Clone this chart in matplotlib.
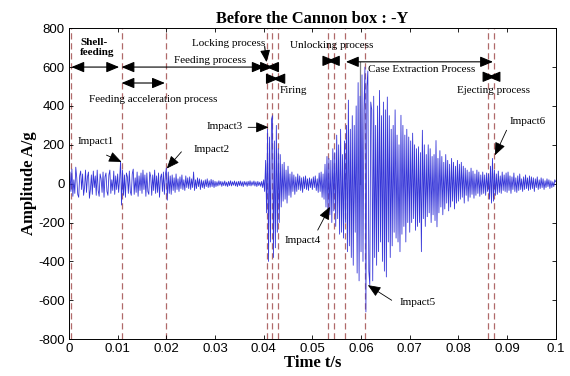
import numpy as np
import matplotlib
matplotlib.use("Agg")
import matplotlib.pyplot as plt

# sample spacing of the hand-read signal (s)
dt = 0.0002

# amplitude (A/g), one list per 0.005 s
a00 = [5, 60, -40, 75, -65, 20, -50, 85, 30, -55, -70, 40, 65, -30, 50, -60, -20, 70, -45, 35, 60, -75, -30, 45, -55]
a01 = [65, -20, 40, -60, 70, -35, -65, 50, 25, -45, 60, -70, 35, 55, -40, -60, 45, 70, -50, 20, -35, 65, -55, 40, -30]
a02 = [50, -45, 20, 115, -110, 70, -60, 45, -70, 55, 35, -50, 65, -40, -60, 50, 75, -55, 30, -45, 60, -65, 40, -35, 55]
a03 = [-50, 70, -30, 45, -65, 55, -40, -55, 60, 35, -60, 45, -35, 70, -50, 40, -45, 55, -70, 30, 50, -40, 60, -55, 45]
a04 = [80, -85, 60, -50, 40, -55, 45, -35, 30, -45, 50, -30, 25, -40, 35, -25, 45, -30, 20, -35, 40, -20, 30, -25, 35]
a05 = [-30, 25, -20, 60, -35, 20, -25, 30, -15, 25, -30, 20, -20, 15, -25, 20, -15, 25, -20, 15, -18, 22, -15, 18, -20]
a06 = [12, -15, 10, -12, 15, -8, 12, -14, 10, -10, 14, -12, 8, -15, 12, -10, 15, -12, 10, -8, 14, -12, 10, -15, 12]
a07 = [-10, 14, -12, 10, -15, 12, -8, 10, -14, 12, -10, 15, -12, 10, -8, 14, -12, 10, -15, 12, -10, 8, -14, 12, -20]
a08 = [20, -40, 120, -150, 280, -400, 240, -300, 330, 350, -380, 220, -330, 300, -250, 180, -200, 150, -120, 100, -90, 110, -80, 70, -100]
a09 = [90, -60, 50, -70, 60, -40, 45, -55, 35, -40, 50, -30, 40, -35, 30, -45, 35, -25, 40, -30, 25, -35, 30, -20, 25]
a10 = [-30, 35, -20, 40, -35, 25, -45, 55, -40, 60, -70, 50, -80, 100, -120, 140, -150, 130, -160, 120, -200, 180, -140, 160, -220]
a11 = [250, -180, 200, -260, 280, -250, 150, -280, 220, -200, 300, -350, 430, -320, 280, -380, 350, -420, 300, -250, 400, -460, 520, -500, 450]
a12 = [-350, 560, -400, 380, 600, -660, 500, 580, -450, -520, 420, 380, -500, 450, -380, 300, -420, 400, -350, 480, -300, 350, -400, 420, -450]
a13 = [380, -480, 446, -300, 350, -380, 280, -320, 300, -250, 380, -280, 250, -300, 200, -350, 352, -260, 300, -220, 250, -300, 280, -200, 240]
a14 = [-250, 220, -200, 260, -180, 200, -240, 180, -220, 190, -200, 160, -350, 275, -180, 200, -220, 150, -170, 200, -150, 180, -200, 140, -160]
a15 = [150, -190, 222, -222, 130, -150, 170, -120, 140, -160, 110, -130, 150, -100, 120, -140, 100, -120, 130, -90, 110, -130, 90, -100, 120]
a16 = [-90, 100, -80, 110, -70, 90, -100, 80, -60, 70, -90, 60, -70, 80, -55, 65, -75, 50, -60, 70, -50, 60, -65, 45, -55]
a17 = [60, -50, 45, -60, 55, -40, 50, -80, 90, -100, 130, -90, 70, -60, 50, -55, 65, -45, 40, -50, 60, -35, 45, -40, 55]
a18 = [-45, 60, -35, 40, -50, 35, -30, 55, -40, 30, -45, 40, -35, 50, -30, 25, -40, 35, -30, 45, -25, 30, -35, 40, -30]
a19 = [35, -25, 30, -40, 25, -20, 35, -30, 20, -25, 30, -20, 25, -30, 15, -20, 25, -15, 20, -25, 15, -20, 10, -15, 20, 10]

amplitude = np.array(a00 + a01 + a02 + a03 + a04 + a05 + a06 + a07 + a08 + a09
                     + a10 + a11 + a12 + a13 + a14 + a15 + a16 + a17 + a18 + a19, dtype=float)
time = np.arange(len(amplitude)) * dt

# stage boundaries (dashed lines)
boundaries = [0.0004, 0.0108, 0.0199, 0.0406, 0.0418, 0.0430, 0.0532, 0.0545, 0.0567, 0.0608, 0.0861, 0.0873]

xticks = [0, 0.01, 0.02, 0.03, 0.04, 0.05, 0.06, 0.07, 0.08, 0.09, 0.1]
xticklabels = ["0", "0.01", "0.02", "0.03", "0.04", "0.05", "0.06", "0.07", "0.08", "0.09", "0.1"]
yticks = [-800, -600, -400, -200, 0, 200, 400, 600, 800]

serif = ["Liberation Serif", "DejaVu Serif"]
sans = ["Liberation Sans", "DejaVu Sans"]

fig = plt.figure(figsize=(5.7, 3.76), dpi=100)
ax = fig.add_axes([0.121, 0.098, 0.854, 0.827])

for b in boundaries:
    ax.axvline(b, color="#b06a6a", linestyle=(0, (5, 3)), linewidth=0.9, zorder=1)

ax.plot([0.0598, 0.0598], [0, 627], color="#808080", linewidth=0.9, zorder=1)
ax.plot(time, amplitude, color="#3535d8", linewidth=0.6, zorder=2)

ax.set_xlim(0, 0.1)
ax.set_ylim(-800, 800)
ax.set_xticks(xticks)
ax.set_xticklabels(xticklabels, family=sans, fontsize=9.5)
ax.set_yticks(yticks)
ax.set_yticklabels([str(v) for v in yticks], family=sans, fontsize=9.5)
ax.tick_params(direction="in", top=True, right=True, length=3, width=0.6, pad=3)
for s in ax.spines.values():
    s.set_linewidth(0.7)

ax.set_title("Before the Cannon box : -Y", family=serif, fontweight="bold", fontsize=11.8, pad=4)
ax.set_xlabel("Time t/s", family=serif, fontweight="bold", fontsize=12, labelpad=0)
ax.set_ylabel("Amplitude A/g", family=serif, fontweight="bold", fontsize=12, labelpad=1)

head = "<|-|>,head_length=0.6,head_width=0.25"


def span(x1, x2, y):
    ax.annotate("", xy=(x1, y), xytext=(x2, y),
                arrowprops=dict(arrowstyle=head, color="black", lw=0.8,
                                mutation_scale=13, shrinkA=0, shrinkB=0))


def pointer(text, xt, yt, xh, yh, tx, ty, ha="left"):
    ax.annotate("", xy=(xh, yh), xytext=(xt, yt),
                arrowprops=dict(arrowstyle="-|>,head_length=0.6,head_width=0.25", color="black",
                                lw=0.6, mutation_scale=13, shrinkA=0, shrinkB=0))
    ax.text(tx, ty, text, family=serif, fontsize=8, ha=ha, va="center")


tsize = 8
span(0.0005, 0.0103, 600)
span(0.0108, 0.0402, 600)
span(0.0108, 0.0197, 518)
span(0.0405, 0.0419, 600)
span(0.0418, 0.0431, 540)
span(0.0530, 0.0547, 632)
span(0.0569, 0.0871, 627)
span(0.0860, 0.0876, 550)

ax.text(0.0023, 700, "Shell-\nfeeding", family=serif, fontweight="bold", fontsize=tsize,
        ha="left", va="center", linespacing=1.1)
ax.text(0.0215, 632, "Feeding process", family=serif, fontsize=tsize, ha="left", va="center")
ax.text(0.0172, 435, "Feeding acceleration process", family=serif, fontsize=tsize, ha="center", va="center")
ax.text(0.0252, 722, "Locking process", family=serif, fontsize=tsize, ha="left", va="center")
ax.annotate("", xy=(0.0406, 625), xytext=(0.0402, 706),
            arrowprops=dict(arrowstyle="-|>,head_length=0.6,head_width=0.25", color="black", lw=0.8,
                            mutation_scale=12, shrinkA=0, shrinkB=0))
ax.text(0.0433, 482, "Firing", family=serif, fontsize=tsize, ha="left", va="center")
ax.text(0.0454, 712, "Unlocking process", family=serif, fontsize=tsize, ha="left", va="center")
ax.text(0.0614, 590, "Case Extraction Process", family=serif, fontsize=tsize, ha="left", va="center")
ax.text(0.0797, 478, "Ejecting process", family=serif, fontsize=tsize, ha="left", va="center")

pointer("Impact1", 0.0077, 147, 0.0108, 112, 0.0018, 215)
pointer("Impact2", 0.0231, 164, 0.0201, 78, 0.0255, 175)
pointer("Impact3", 0.0368, 290, 0.0410, 290, 0.0283, 292)
pointer("Impact4", 0.0511, -239, 0.0536, -119, 0.0443, -290)
pointer("Impact5", 0.0663, -600, 0.0614, -522, 0.0680, -612)
pointer("Impact6", 0.0899, 275, 0.0875, 146, 0.0906, 318)

fig.savefig("out.png", dpi=100)
